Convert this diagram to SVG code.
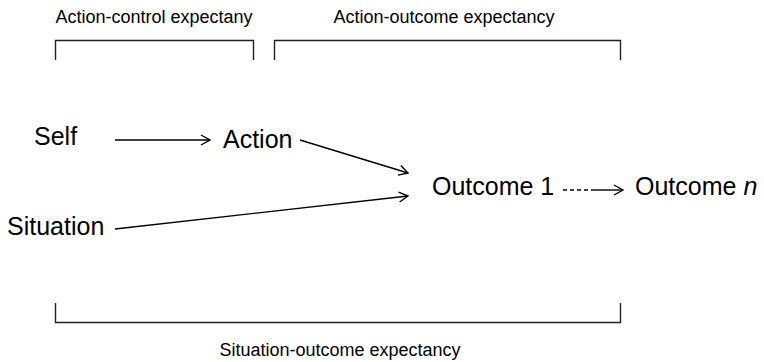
<svg xmlns="http://www.w3.org/2000/svg" width="764" height="362" viewBox="0 0 764 362">
<style>
text{font-family:"Liberation Sans",Arial,sans-serif;fill:#000}
.lbl{font-size:18px}
.node{font-size:25px}
.br{fill:none;stroke:#222;stroke-width:1.4}
.con{fill:none;stroke:#000;stroke-width:1.4}
</style>
<defs>
<marker id="ah" markerWidth="12" markerHeight="12" refX="10" refY="6" orient="auto" markerUnits="userSpaceOnUse">
<path d="M1,1 L10,6 L1,11" fill="none" stroke="#000" stroke-width="1.4"/>
</marker>
</defs>
<g id="brackets">
<path class="br" d="M55.5,60 V40.5 H253.5 V60"/>
<path class="br" d="M274.5,60 V40.5 H620.5 V60"/>
<path class="br" d="M55.5,303 V322.5 H620.5 V303"/>
<text class="lbl" x="154" y="22.5" text-anchor="middle">Action-control expectany</text>
<text class="lbl" x="444" y="22.5" text-anchor="middle">Action-outcome expectancy</text>
<text class="lbl" x="340" y="356" text-anchor="middle">Situation-outcome expectancy</text>
</g>
<g id="connectors">
<line class="con" x1="115" y1="140" x2="210" y2="140" marker-end="url(#ah)"/>
<line class="con" x1="300" y1="140" x2="408" y2="173" marker-end="url(#ah)"/>
<line class="con" x1="115" y1="229" x2="408" y2="196" marker-end="url(#ah)"/>
<line class="con" x1="563" y1="190" x2="593" y2="190" stroke-dasharray="4,3"/>
<line class="con" x1="593" y1="190" x2="623" y2="190" marker-end="url(#ah)"/>
</g>
<g id="self"><text class="node" x="34" y="145">Self</text></g>
<g id="action"><text class="node" x="223" y="148">Action</text></g>
<g id="situation"><text class="node" x="7" y="235">Situation</text></g>
<g id="outcome1"><text class="node" x="432" y="195">Outcome 1</text></g>
<g id="outcomen"><text class="node" x="635" y="195">Outcome <tspan font-style="italic">n</tspan></text></g>
</svg>
